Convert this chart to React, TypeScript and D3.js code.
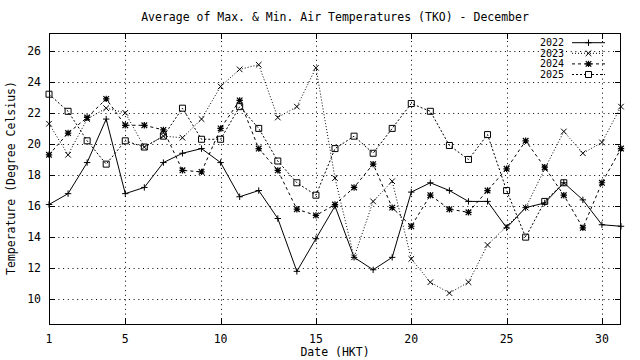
import React, { useRef, useEffect } from "react";
import * as d3 from "d3";

const width = 640;
const height = 360;
const margin = { top: 33, right: 19, bottom: 36, left: 49 };

const days = [1, 2, 3, 4, 5, 6, 7, 8, 9, 10, 11, 12, 13, 14, 15, 16, 17, 18, 19, 20, 21, 22, 23, 24, 25, 26, 27, 28, 29, 30, 31];
const xTicks = [1, 5, 10, 15, 20, 25, 30];
const yTicks = [10, 12, 14, 16, 18, 20, 22, 24, 26];

const t2022 = [16.1, 16.8, 18.8, 21.6, 16.8, 17.2, 18.8, 19.4, 19.7, 18.8, 16.6, 17.0, 15.2, 11.8, 13.9, 16.0, 12.7, 11.9, 12.7, 16.9, 17.5, 17.0, 16.3, 16.3, 14.6, 15.9, 16.2, 17.5, 16.4, 14.8, 14.7];
const t2023 = [21.3, 19.3, 21.6, 22.3, 22.0, 19.8, 20.5, 20.4, 21.6, 23.7, 24.8, 25.1, 21.7, 22.4, 24.9, 17.8, 12.7, 16.3, 17.6, 12.6, 11.1, 10.4, 11.1, 13.5, 14.7, 15.9, 18.4, 20.8, 19.4, 20.1, 22.4];
const t2024 = [19.3, 20.7, 21.7, 22.9, 21.2, 21.2, 20.9, 18.3, 18.2, 21.0, 22.8, 19.7, 18.3, 15.8, 15.4, 16.1, 17.2, 18.7, 15.9, 14.7, 16.7, 15.8, 15.6, 17.0, 18.4, 20.2, 18.5, 16.7, 14.6, 17.5, 19.7];
const t2025 = [23.2, 22.1, 20.2, 18.7, 20.2, 19.8, 20.5, 22.3, 20.3, 20.3, 22.4, 21.0, 18.9, 17.5, 16.7, 19.7, 20.5, 19.4, 21.0, 22.6, 22.1, 19.9, 19.0, 20.6, 17.0, 14.0, 16.3, 17.5];

const series = [
  { name: "2022", values: t2022, dash: null, marker: "plus" },
  { name: "2023", values: t2023, dash: "1,2", marker: "cross" },
  { name: "2024", values: t2024, dash: "3,3", marker: "star" },
  { name: "2025", values: t2025, dash: "2,2", marker: "square" },
];

const font = "'DejaVu Sans Mono', monospace";

// little gnuplot-like point symbols
const markerPath = (type, x, y) => {
  const s = 3.2;
  const plus = `M${x - s},${y}H${x + s}M${x},${y - s}V${y + s}`;
  const c = 2.8;
  const cross = `M${x - c},${y - c}L${x + c},${y + c}M${x - c},${y + c}L${x + c},${y - c}`;
  if (type === "plus") return plus;
  if (type === "cross") return cross;
  if (type === "star") return plus + cross;
  return `M${x - 3},${y - 3}h6v6h-6Z`;
};

const App = () => {
  const ref = useRef(null);

  useEffect(() => {
    document.body.style.margin = "0";
    const svg = d3.select(ref.current);
    svg.selectAll("*").remove();

    const x = d3.scaleLinear().domain([1, 31]).range([margin.left, width - margin.right]);
    const y = d3.scaleLinear().domain([8.41, 27.14]).range([height - margin.bottom, margin.top]);
    const x0 = margin.left, x1 = width - margin.right;
    const y0 = height - margin.bottom, y1 = margin.top;

    svg.append("rect").attr("width", width).attr("height", height).attr("fill", "white");

    // grid
    const grid = svg.append("g").attr("stroke", "black").attr("stroke-width", 1).attr("stroke-dasharray", "1,3.7");
    grid.selectAll(".gy").data(yTicks).join("line")
      .attr("x1", x0).attr("x2", x1)
      .attr("y1", (d) => Math.round(y(d)) + 0.5).attr("y2", (d) => Math.round(y(d)) + 0.5);
    grid.selectAll(".gx").data(xTicks.slice(1)).join("line")
      .attr("y1", y0).attr("y2", y1)
      .attr("x1", (d) => Math.round(x(d)) + 0.5).attr("x2", (d) => Math.round(x(d)) + 0.5);

    // ticks (inward, mirrored)
    const ticks = svg.append("g").attr("stroke", "black").attr("stroke-width", 1);
    yTicks.forEach((d) => {
      const py = Math.round(y(d)) + 0.5;
      ticks.append("line").attr("x1", x0).attr("x2", x0 + 6).attr("y1", py).attr("y2", py);
      ticks.append("line").attr("x1", x1 - 6).attr("x2", x1).attr("y1", py).attr("y2", py);
    });
    xTicks.forEach((d) => {
      const px = Math.round(x(d)) + 0.5;
      ticks.append("line").attr("x1", px).attr("x2", px).attr("y1", y0).attr("y2", y0 - 6);
      ticks.append("line").attr("x1", px).attr("x2", px).attr("y1", y1).attr("y2", y1 + 6);
    });

    // lines
    const line = d3.line().x((d, i) => x(days[i])).y((d) => y(d));
    series.forEach((s) => {
      svg.append("path").datum(s.values)
        .attr("d", line)
        .attr("fill", "none")
        .attr("stroke", "black")
        .attr("stroke-width", 1)
        .attr("stroke-dasharray", s.dash);
      svg.append("g").selectAll("path").data(s.values).join("path")
        .attr("d", (d, i) => markerPath(s.marker, x(days[i]), y(d)))
        .attr("fill", "none")
        .attr("stroke", "black")
        .attr("stroke-width", s.marker === "star" ? 1.2 : 1);
    });

    // frame
    svg.append("rect")
      .attr("x", x0 + 0.5).attr("y", y1 + 0.5)
      .attr("width", x1 - x0 - 1).attr("height", y0 - y1)
      .attr("fill", "none").attr("stroke", "black");

    // tick labels
    const txt = svg.append("g").style("font", `11.5px ${font}`).attr("fill", "black");
    txt.selectAll(".yl").data(yTicks).join("text")
      .attr("x", 41).attr("y", (d) => y(d) + 4)
      .attr("text-anchor", "end").text((d) => d);
    txt.selectAll(".xl").data(xTicks).join("text")
      .attr("x", (d) => x(d)).attr("y", 343)
      .attr("text-anchor", "middle").text((d) => d);

    txt.append("text").attr("x", 335).attr("y", 356).attr("text-anchor", "middle").text("Date (HKT)");
    txt.append("text").attr("x", 335).attr("y", 21).attr("text-anchor", "middle")
      .text("Average of Max. & Min. Air Temperatures (TKO) - December");
    txt.append("text").attr("transform", "translate(15,178) rotate(-90)")
      .attr("text-anchor", "middle").text("Temperature (Degree Celsius)");

    // legend
    const leg = svg.append("g");
    series.forEach((s, i) => {
      const cy = 42.7 + i * 10.6;
      leg.append("text").attr("x", 564).attr("y", cy + 3.5)
        .attr("text-anchor", "end").style("font", `10px ${font}`).text(s.name);
      leg.append("line").attr("x1", 572).attr("x2", 605).attr("y1", cy).attr("y2", cy)
        .attr("stroke", "black").attr("stroke-dasharray", s.dash);
      leg.append("path").attr("d", markerPath(s.marker, 588.5, cy))
        .attr("fill", "white").attr("stroke", "black")
        .attr("stroke-width", s.marker === "star" ? 1.2 : 1);
    });
  }, []);

  return <svg ref={ref} width={width} height={height} style={{ display: "block" }} />;
};

export default App;
